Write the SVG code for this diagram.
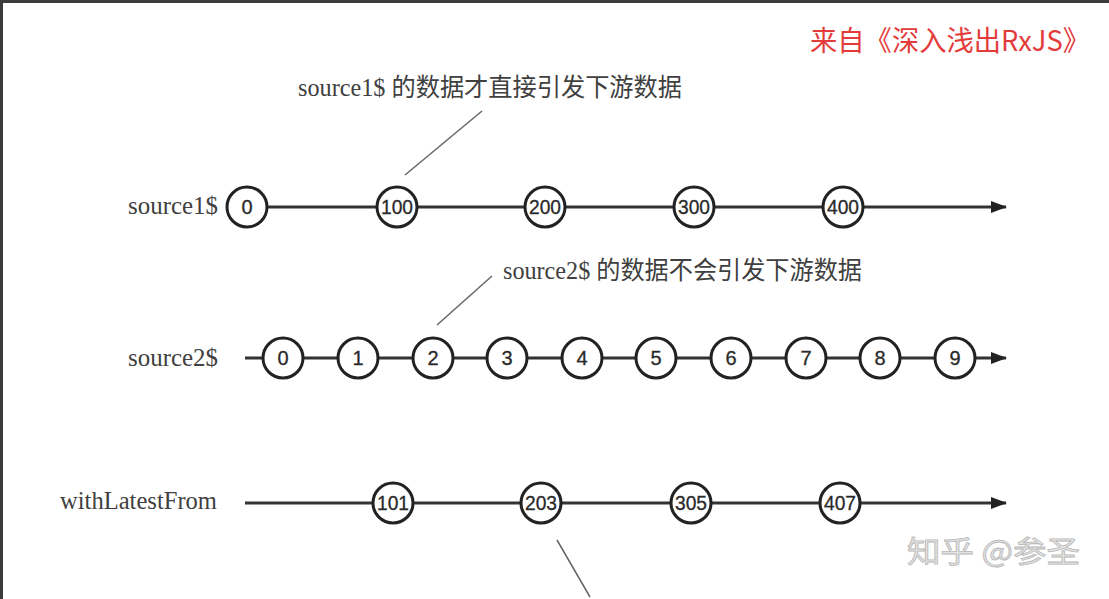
<svg xmlns="http://www.w3.org/2000/svg" width="1109" height="599" viewBox="0 0 1109 599">
<style>
.lbl{font-family:"Liberation Serif","Noto Sans CJK SC",serif;font-size:25px;fill:#404040}
.num{font-family:"Liberation Sans",Arial,sans-serif;font-size:20px;fill:#2a2a2a;text-anchor:middle;stroke:#2a2a2a;stroke-width:0.3}
.c{fill:#fff;stroke:#222;stroke-width:3}
.axis{stroke:#333;stroke-width:3;fill:none}
.lead{stroke:#666;stroke-width:1.5;fill:none}
</style>
<defs>
<marker id="arr" markerWidth="16" markerHeight="12" refX="15" refY="6" orient="auto" markerUnits="userSpaceOnUse">
<path d="M0,0 L16,6 L0,12 Z" fill="#222"/>
</marker>
</defs>
<rect x="0" y="0" width="1109" height="599" fill="#fff"/>
<rect x="0" y="0" width="1109" height="3" fill="#3c3c3c"/>
<rect x="0" y="0" width="3" height="599" fill="#3c3c3c"/>
<text x="810" y="51" style="font-family:'Noto Sans CJK SC','Liberation Sans',sans-serif;font-size:28px;fill:#e33b3b" textLength="280" lengthAdjust="spacingAndGlyphs">来自《深入浅出RxJS》</text>
<g id="connectors">
<line class="axis" x1="268" y1="207" x2="1006" y2="207" marker-end="url(#arr)"/>
<line class="axis" x1="245" y1="358" x2="1006" y2="358" marker-end="url(#arr)"/>
<line class="axis" x1="245" y1="503" x2="1006" y2="503" marker-end="url(#arr)"/>
<line class="lead" x1="482" y1="111" x2="405" y2="175"/>
<line class="lead" x1="492" y1="276" x2="437" y2="325"/>
<line class="lead" x1="557" y1="540" x2="590" y2="597"/>
</g>
<g id="labels">
<text class="lbl" x="128" y="214" textLength="90" lengthAdjust="spacingAndGlyphs">source1$</text>
<text class="lbl" x="128" y="366" textLength="90" lengthAdjust="spacingAndGlyphs">source2$</text>
<text class="lbl" x="60" y="509" textLength="157" lengthAdjust="spacingAndGlyphs">withLatestFrom</text>
<text class="lbl" x="298" y="96" textLength="384" lengthAdjust="spacingAndGlyphs">source1$ 的数据才直接引发下游数据</text>
<text class="lbl" x="503" y="279" textLength="359" lengthAdjust="spacingAndGlyphs">source2$ 的数据不会引发下游数据</text>
</g>
<g id="s1">
<g id="s1-0"><circle class="c" cx="247" cy="207" r="20"/><text class="num" x="247" y="214">0</text></g>
<g id="s1-100"><circle class="c" cx="397" cy="207" r="20"/><text class="num" x="397" y="214" textLength="32" lengthAdjust="spacingAndGlyphs">100</text></g>
<g id="s1-200"><circle class="c" cx="545" cy="207" r="20"/><text class="num" x="545" y="214" textLength="32" lengthAdjust="spacingAndGlyphs">200</text></g>
<g id="s1-300"><circle class="c" cx="694" cy="207" r="20"/><text class="num" x="694" y="214" textLength="32" lengthAdjust="spacingAndGlyphs">300</text></g>
<g id="s1-400"><circle class="c" cx="843" cy="207" r="20"/><text class="num" x="843" y="214" textLength="32" lengthAdjust="spacingAndGlyphs">400</text></g>
</g>
<g id="s2">
<g id="s2-0"><circle class="c" cx="283" cy="358" r="20"/><text class="num" x="283" y="365">0</text></g>
<g id="s2-1"><circle class="c" cx="358" cy="358" r="20"/><text class="num" x="358" y="365">1</text></g>
<g id="s2-2"><circle class="c" cx="433" cy="358" r="20"/><text class="num" x="433" y="365">2</text></g>
<g id="s2-3"><circle class="c" cx="507" cy="358" r="20"/><text class="num" x="507" y="365">3</text></g>
<g id="s2-4"><circle class="c" cx="582" cy="358" r="20"/><text class="num" x="582" y="365">4</text></g>
<g id="s2-5"><circle class="c" cx="656" cy="358" r="20"/><text class="num" x="656" y="365">5</text></g>
<g id="s2-6"><circle class="c" cx="731" cy="358" r="20"/><text class="num" x="731" y="365">6</text></g>
<g id="s2-7"><circle class="c" cx="806" cy="358" r="20"/><text class="num" x="806" y="365">7</text></g>
<g id="s2-8"><circle class="c" cx="880" cy="358" r="20"/><text class="num" x="880" y="365">8</text></g>
<g id="s2-9"><circle class="c" cx="955" cy="358" r="20"/><text class="num" x="955" y="365">9</text></g>
</g>
<g id="wl">
<g id="wl-101"><circle class="c" cx="393" cy="503" r="20"/><text class="num" x="393" y="510" textLength="32" lengthAdjust="spacingAndGlyphs">101</text></g>
<g id="wl-203"><circle class="c" cx="541" cy="503" r="20"/><text class="num" x="541" y="510" textLength="32" lengthAdjust="spacingAndGlyphs">203</text></g>
<g id="wl-305"><circle class="c" cx="691" cy="503" r="20"/><text class="num" x="691" y="510" textLength="32" lengthAdjust="spacingAndGlyphs">305</text></g>
<g id="wl-407"><circle class="c" cx="840" cy="503" r="20"/><text class="num" x="840" y="510" textLength="32" lengthAdjust="spacingAndGlyphs">407</text></g>
</g>
<text x="907" y="562" style="font-family:'Noto Sans CJK SC',sans-serif;font-size:30px;fill:#e4e4e4;stroke:#b8b8b8;stroke-width:0.8" textLength="173" lengthAdjust="spacingAndGlyphs">知乎 @参圣</text>
</svg>
